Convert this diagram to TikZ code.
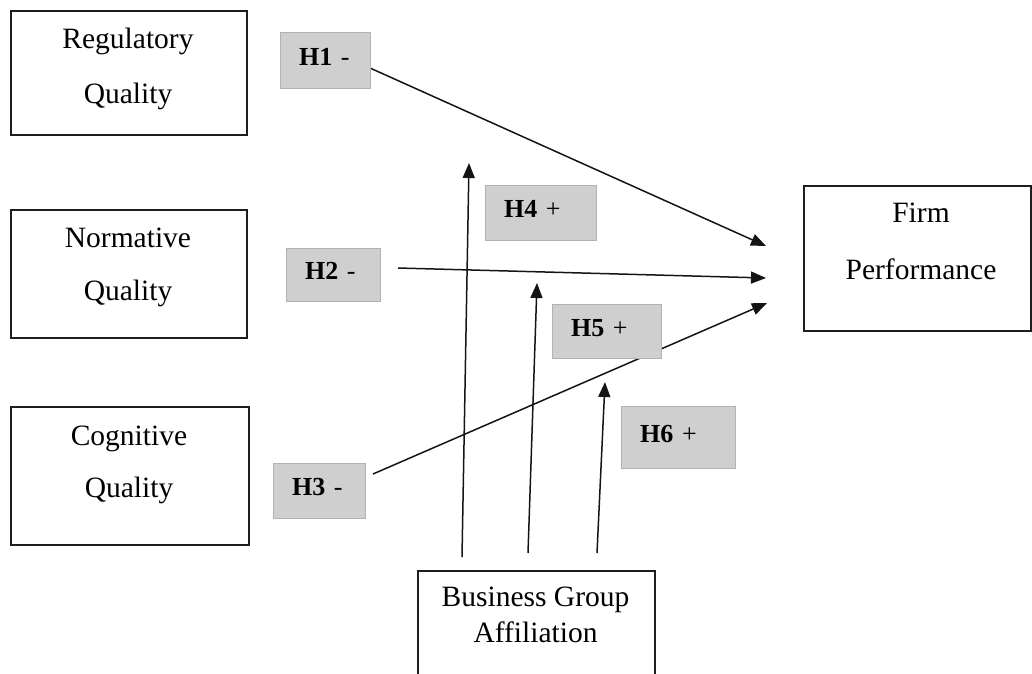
\documentclass[tikz,border=0pt]{standalone}
\usepackage{fontspec}
\setmainfont{Liberation Serif}
\usetikzlibrary{arrows.meta}
\definecolor{labfill}{RGB}{207,207,207}
\definecolor{labdraw}{RGB}{178,178,178}
\definecolor{boxdraw}{RGB}{30,30,30}
\definecolor{arrowc}{RGB}{20,20,20}
\begin{document}
\begin{tikzpicture}[x=1pt,y=-1pt,
  mbox/.style={draw=boxdraw, line width=1.8pt, anchor=north west, inner sep=0pt},
  mtext/.style={align=center, inner sep=0pt, font=\fontsize{29.5}{55}\selectfont},
  hlab/.style={draw=labdraw, fill=labfill, line width=1.2pt, anchor=north west,
    inner xsep=18.5pt, inner ysep=0pt, align=left, text depth=8pt,
    font=\fontsize{26}{30}\selectfont},
  conn/.style={draw=arrowc, line width=1.5pt, -{Triangle[length=15pt,width=12pt]}}]
\useasboundingbox (0,0) rectangle (1032,673);
\clip (0,0) rectangle (1032,673);

% connector end points
\coordinate (a1s) at (370,68);  \coordinate (a1e) at (766,246);
\coordinate (a2s) at (398,268); \coordinate (a2e) at (766,278);
\coordinate (a3s) at (373,474); \coordinate (a3e) at (767,303);
\coordinate (v1s) at (462,557); \coordinate (v1e) at (469,163);
\coordinate (v2s) at (528,553); \coordinate (v2e) at (537,283);
\coordinate (v3s) at (597,553); \coordinate (v3e) at (605,382);

\draw[conn] (a1s) -- (a1e);
\draw[conn] (a2s) -- (a2e);
\draw[conn] (a3s) -- (a3e);
\draw[conn] (v1s) -- (v1e);
\draw[conn] (v2s) -- (v2e);
\draw[conn] (v3s) -- (v3e);

% main boxes
\node[mbox, minimum width=236pt, minimum height=124pt] (rq) at (10,10) {};
\node[mtext] (rqt) at (128,68.7) {Regulatory\\Quality};
\node[mbox, minimum width=236pt, minimum height=128pt] (nq) at (10,209) {};
\node[mtext, font=\fontsize{29.5}{53}\selectfont] (nqt) at (128,267.7) {Normative\\Quality};
\node[mbox, minimum width=238pt, minimum height=138pt] (cq) at (10,406) {};
\node[mtext, font=\fontsize{29.5}{52}\selectfont] (cqt) at (129,464.5) {Cognitive\\Quality};
\node[mbox, minimum width=227pt, minimum height=145pt] (fp) at (803,185) {};
\node[mtext, font=\fontsize{29.5}{57}\selectfont] (fpt) at (921,241.5) {Firm\\Performance};
\node[mbox, minimum width=237pt, minimum height=140pt] (bg) at (417,570) {};
\node[mtext, font=\fontsize{29.5}{36}\selectfont] (bgt) at (535.5,615) {Business Group\\Affiliation};

% hypothesis labels
\node[hlab, minimum width=90pt,  minimum height=56pt, text width=53pt] (h1) at (280,32)  {\textbf{H1} -};
\node[hlab, minimum width=111pt, minimum height=55pt, text width=74pt] (h4) at (485,185) {\textbf{H4} +};
\node[hlab, minimum width=94pt,  minimum height=53pt, text width=57pt] (h2) at (286,248) {\textbf{H2} -};
\node[hlab, minimum width=109pt, minimum height=54pt, text width=72pt] (h5) at (552,304) {\textbf{H5} +};
\node[hlab, minimum width=114pt, minimum height=62pt, text width=77pt] (h6) at (621,406) {\textbf{H6} +};
\node[hlab, minimum width=92pt,  minimum height=55pt, text width=55pt] (h3) at (273,463) {\textbf{H3} -};
\end{tikzpicture}
\end{document}
